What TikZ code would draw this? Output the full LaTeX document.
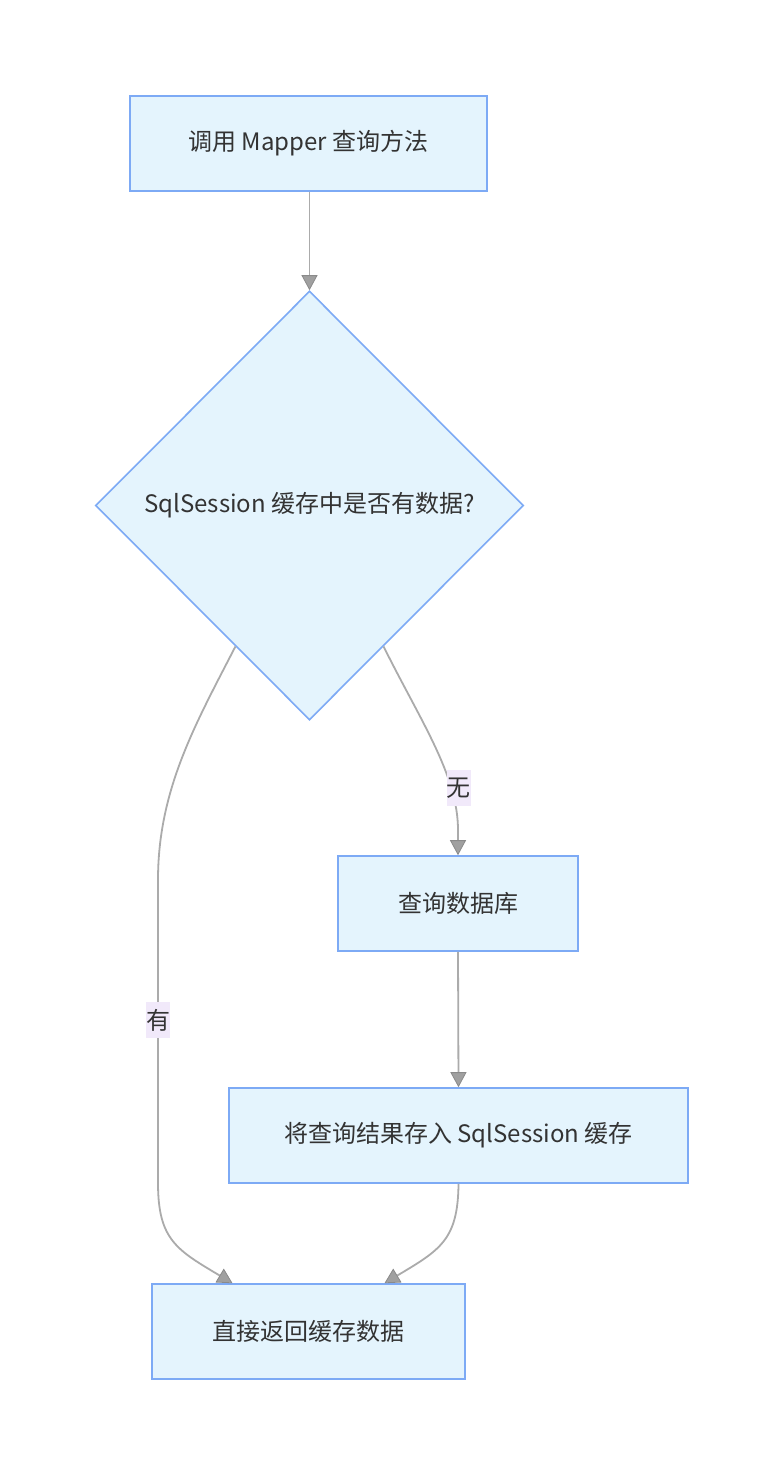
\documentclass[tikz,border=0pt]{standalone}
\usepackage{fontspec}
\setmainfont{Noto Sans CJK SC}
\usetikzlibrary{shapes.geometric,arrows.meta,calc}
\definecolor{nodefill}{HTML}{E4F4FD}
\definecolor{nodeline}{HTML}{7DAAF5}
\definecolor{edgeline}{HTML}{ABABAB}
\definecolor{tipfill}{HTML}{A0A0A0}
\definecolor{tipline}{HTML}{8A8A8A}
\definecolor{labelbg}{HTML}{F1E9FA}
\definecolor{txt}{HTML}{333333}
\tikzset{
  box/.style={rectangle, draw=nodeline, fill=nodefill, line width=1.6pt,
    text=txt, font=\fontsize{24}{29}\selectfont, inner sep=0pt},
  decision/.style={diamond, draw=nodeline, fill=nodefill, line width=1.6pt,
    text=txt, font=\fontsize{24}{29}\selectfont, inner sep=0pt, aspect=1},
  edge/.style={draw=edgeline, line width=1.8pt,
    -{Triangle[length=15pt,width=16pt,fill=tipfill,color=tipline,line width=0.8pt]}},
  elabel/.style={rectangle, fill=labelbg, text=txt, inner sep=0pt,
    minimum width=24pt, minimum height=36pt, font=\fontsize{24}{29}\selectfont}
}
\begin{document}
\begin{tikzpicture}[x=1pt,y=-1pt]
\useasboundingbox[fill=white] (0,0) rectangle (784,1476);

% process steps
\node[box, minimum width=357pt, minimum height=95pt] (call) at (308.5,143.5) {调用 Mapper 查询方法};
\node[decision, minimum width=428pt, minimum height=429pt] (dec) at (309.5,505.5) {SqlSession 缓存中是否有数据?};
\node[box, minimum width=240pt, minimum height=95pt] (query) at (458,903.5) {查询数据库};
\node[box, minimum width=459pt, minimum height=95pt] (store) at (458.5,1135.5) {将查询结果存入 SqlSession 缓存};
\node[box, minimum width=313pt, minimum height=95pt] (direct) at (308.5,1331.5) {直接返回缓存数据};

% points where the branches leave the decision and enter the last step
\coordinate (yesOut) at ($(dec.west)!0.655!(dec.south)$);
\coordinate (noOut) at ($(dec.east)!0.655!(dec.south)$);
\coordinate (inL) at ($(direct.north)+(-76,0)$);
\coordinate (inR) at ($(direct.north)+(76,0)$);

% connectors
\draw[edge] (call.south -| dec.north) -- (dec.north);
\draw[edge] (noOut) .. controls (420,720) and (458,775) .. (458,830) -- (query.north);
\draw[edge] (yesOut) .. controls (195,725) and (158,790) .. (158,880) -- (158,1183)
  .. controls (158,1240) and (177,1250) .. (inL);
\draw[edge] (query.south) -- (store.north);
\draw[edge] (store.south) .. controls (458,1240) and (440,1250) .. (inR);

% branch labels
\node[elabel] (lblNo) at (458.5,788) {无};
\node[elabel] (lblYes) at (158,1020) {有};
\end{tikzpicture}
\end{document}
